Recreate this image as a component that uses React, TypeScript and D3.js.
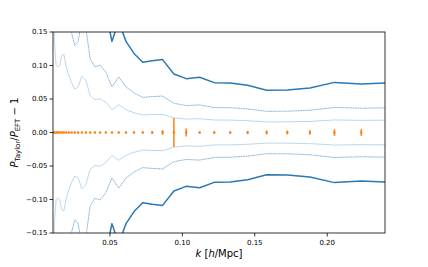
import React from "react";
import * as d3 from "d3";

// k grid (h/Mpc)
const kValues = [
  0.01084, 0.01182, 0.01289, 0.01405, 0.01532, 0.0167, 0.01821, 0.01986, 0.02165,
  0.02361, 0.02574, 0.02806, 0.0306, 0.03336, 0.03637, 0.03966, 0.04324, 0.04714,
  0.0514, 0.05604, 0.0611, 0.06662, 0.07264, 0.0792, 0.08635, 0.09415, 0.10265,
  0.11192, 0.12203, 0.13305, 0.14507, 0.15817, 0.17246, 0.18803, 0.20501, 0.22353,
  0.24371,
];

// upper envelopes (lower is mirrored)
const bandLight = [
  0.21, 0.13, 0.1, 0.098, 0.1, 0.115, 0.117, 0.098, 0.085, 0.074, 0.065, 0.068,
  0.084, 0.078, 0.055, 0.049, 0.0504, 0.045, 0.034, 0.0415, 0.034, 0.0295, 0.0262,
  0.0268, 0.0272, 0.0218, 0.0201, 0.0206, 0.0186, 0.0185, 0.0176, 0.0158, 0.0159,
  0.0166, 0.0187, 0.0181, 0.0185,
];
const bandMedium = [
  0.42, 0.26, 0.2, 0.196, 0.2, 0.23, 0.234, 0.196, 0.17, 0.148, 0.13, 0.136, 0.168,
  0.156, 0.11, 0.098, 0.1008, 0.09, 0.068, 0.083, 0.068, 0.059, 0.0524, 0.0536,
  0.0544, 0.0436, 0.0402, 0.0412, 0.0372, 0.037, 0.0352, 0.0316, 0.0318, 0.0332,
  0.0374, 0.0362, 0.037,
];
const bandDark = [
  0.84, 0.52, 0.4, 0.392, 0.4, 0.46, 0.468, 0.392, 0.34, 0.296, 0.26, 0.272, 0.336,
  0.312, 0.22, 0.196, 0.2016, 0.18, 0.136, 0.166, 0.136, 0.118, 0.1048, 0.1072,
  0.1088, 0.0872, 0.0804, 0.0824, 0.0744, 0.074, 0.0704, 0.0632, 0.0636, 0.0664,
  0.0748, 0.0724, 0.074,
];

// orange points (ratio - 1) and their error bars
const ratioValues = [
  0, 0, 0, 0, 0, 0, 0, 0, 0, 0, 0, 0, 0, 0, 0, 0, 0, 0, 0, 0, 0, 0, 0, 0, 0, 0, 0, 0,
  0, 0, 0, 0, 0, 0, 0, 0,
];
const ratioErrors = [
  0.001, 0.001, 0.001, 0.001, 0.001, 0.001, 0.001, 0.001, 0.001, 0.001, 0.001, 0.001,
  0.001, 0.001, 0.001, 0.001, 0.001, 0.001, 0.0012, 0.0012, 0.0012, 0.0013, 0.0015,
  0.0018, 0.0037, 0.0215, 0.006, 0.0015, 0.0018, 0.002, 0.0025, 0.003, 0.003, 0.0035,
  0.005, 0.005,
];

const xTicks = [0.05, 0.1, 0.15, 0.2];
const yTicks = [-0.15, -0.1, -0.05, 0, 0.05, 0.1, 0.15];

const W = 428;
const H = 267;
const L = 53;
const R = 385;
const T = 32;
const B = 233;
const FONT = "DejaVu Sans, sans-serif";

export default function App() {
  const x = d3.scaleLinear().domain([0.0107, 0.2399]).range([L, R]);
  const y = d3.scaleLinear().domain([-0.15, 0.15]).range([B, T]);
  const line = (vals: number[], sign: number) =>
    d3
      .line<number>()
      .x((_, i) => x(kValues[i]))
      .y((v) => y(sign * v))(vals) as string;

  const fmt = (v: number) => {
    const s = v.toFixed(2);
    return v < 0 ? "\u2212" + s.slice(1) : s;
  };

  const bands = [
    { vals: bandLight, color: "#b4d2ea", w: 0.9, dash: undefined },
    { vals: bandMedium, color: "#7fb1da", w: 0.9, dash: "2 0.5" },
    { vals: bandDark, color: "#2b78b4", w: 1.5, dash: undefined },
  ];

  return (
    <svg
      width={W}
      height={H}
      style={{ position: "absolute", left: 0, top: 0, background: "#fff" }}
      fontFamily={FONT}
    >
      <defs>
        <clipPath id="plotclip">
          <rect x={L} y={T} width={R - L} height={B - T} />
        </clipPath>
      </defs>
      <g clipPath="url(#plotclip)">
        {bands.map((b, j) => (
          <g key={j}>
            {[1, -1].map((s) => (
              <path
                key={s}
                d={line(b.vals, s)}
                fill="none"
                stroke={b.color}
                strokeWidth={b.w}
                strokeDasharray={b.dash}
                strokeLinejoin="round"
              />
            ))}
          </g>
        ))}
        {ratioValues.map((v, i) => (
          <g key={i}>
            <line
              x1={x(kValues[i])}
              x2={x(kValues[i])}
              y1={y(v - ratioErrors[i])}
              y2={y(v + ratioErrors[i])}
              stroke="#ff7f0e"
              strokeWidth={1.5}
            />
            <circle cx={x(kValues[i])} cy={y(v)} r={1.2} fill="#ff7f0e" />
          </g>
        ))}
      </g>
      <rect
        x={L}
        y={T}
        width={R - L}
        height={B - T}
        fill="none"
        stroke="#000"
        strokeWidth={0.8}
      />
      {yTicks.map((t) => (
        <g key={t}>
          <line x1={L - 3.5} x2={L} y1={y(t)} y2={y(t)} stroke="#000" strokeWidth={0.8} />
          <text
            x={L - 5.5}
            y={y(t)}
            dy="0.35em"
            textAnchor="end"
            fontSize={7}
            fill="#000"
          >
            {fmt(t)}
          </text>
        </g>
      ))}
      {xTicks.map((t) => (
        <g key={t}>
          <line x1={x(t)} x2={x(t)} y1={B} y2={B + 3.5} stroke="#000" strokeWidth={0.8} />
          <text x={x(t)} y={B + 11.5} textAnchor="middle" fontSize={7} fill="#000">
            {fmt(t)}
          </text>
        </g>
      ))}
      <text
        x={(L + R) / 2}
        y={257}
        textAnchor="middle"
        fontSize={10}
        fill="#000"
      >
        <tspan fontStyle="italic">k</tspan>
        <tspan> [</tspan>
        <tspan fontStyle="italic">h</tspan>
        <tspan>/Mpc]</tspan>
      </text>
      <text
        transform={`translate(18, ${(T + B) / 2}) rotate(-90)`}
        textAnchor="middle"
        fontSize={10}
        fill="#000"
      >
        <tspan fontStyle="italic">P</tspan>
        <tspan fontSize={7} dy={2}>Taylor</tspan>
        <tspan dy={-2}>/</tspan>
        <tspan fontStyle="italic">P</tspan>
        <tspan fontSize={7} dy={2}>EFT</tspan>
        <tspan dy={-2}> {"\u2212"} 1</tspan>
      </text>
    </svg>
  );
}
